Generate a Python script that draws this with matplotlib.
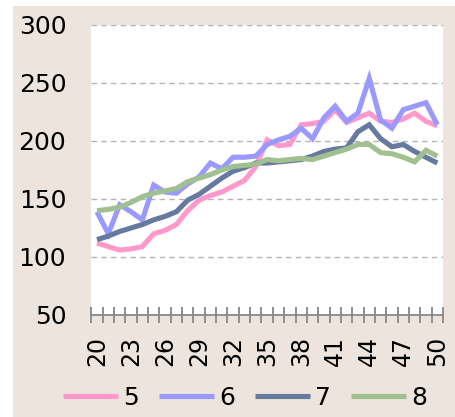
import numpy as np
import matplotlib
matplotlib.use('Agg')
import matplotlib.pyplot as plt
from matplotlib.patches import Rectangle

# категории по оси X
ages = list(range(20, 51))

# значения рядов
s5 = [112, 109, 106, 107, 109, 120, 123, 128, 140, 149, 153, 156, 161, 166, 178, 201,
      196, 197, 214, 215, 217, 227, 216, 220, 224, 217, 216, 219, 224, 217, 213]
s6 = [139, 120, 145, 139, 132, 162, 156, 155, 163, 169, 181, 176, 186, 186, 187, 197,
      201, 204, 211, 202, 220, 230, 217, 224, 254, 218, 211, 227, 230, 233, 214]
s7 = [115, 118, 122, 125, 128, 132, 135, 139, 149, 154, 161, 168, 174, 177, 181, 181,
      182, 183, 184, 187, 191, 193, 194, 208, 214, 202, 195, 197, 191, 186, 181]
s8 = [140, 141, 143, 147, 152, 155, 157, 159, 165, 168, 171, 175, 178, 179, 180, 184,
      183, 184, 185, 184, 187, 190, 193, 197, 197, 190, 189, 186, 182, 192, 187]

series = {'5': s5, '6': s6, '7': s7, '8': s8}
colors = {'5': '#FF99CC', '6': '#9999FF', '7': '#667AA0', '8': '#A0C090'}

plt.rcParams['font.family'] = 'DejaVu Sans'

fig = plt.figure(figsize=(4.55, 4.17), dpi=100, facecolor='white')
# бежевая подложка, под осями
fig.patches.append(Rectangle((13 / 455, 0), 1 - 13 / 455, 1 - 6 / 417,
                             transform=fig.transFigure, facecolor='#EDE5DD',
                             edgecolor='none', zorder=-10))

ax = fig.add_axes([91.3 / 455, 1 - 315 / 417, (443 - 91.3) / 455, (315 - 25) / 417])
ax.set_facecolor('white')

x = np.arange(len(ages))
for name, vals in series.items():
    ax.plot(x, vals, color=colors[name], lw=3.7, label=name, solid_joinstyle='miter',
            solid_capstyle='butt')

ax.set_xlim(-0.5, len(ages) - 0.5)
ax.set_ylim(50, 300)
ax.set_yticks(range(50, 301, 50))
ax.tick_params(axis='y', length=0, labelsize=18, pad=18)

ax.set_xticks(x[::3])
ax.set_xticklabels([str(a) for a in ages[::3]], rotation=90, fontsize=17)
ax.set_xticks(np.arange(-0.5, len(ages), 1), minor=True)
ax.tick_params(axis='x', which='major', length=0, pad=15)
ax.tick_params(axis='x', which='minor', direction='inout', length=11, width=1.3,
               color='#888888')

for v in range(100, 301, 50):
    ax.axhline(v, color='#B4B4B4', lw=1, ls=(0, (4, 3)), zorder=0)

for side in ['top', 'right', 'left']:
    ax.spines[side].set_visible(False)
ax.spines['bottom'].set_color('#888888')
ax.spines['bottom'].set_linewidth(1.3)

fig.legend(loc='center', bbox_to_anchor=(245 / 455, 1 - 398 / 417), ncol=4,
           frameon=False, fontsize=18, handlelength=2.2, handletextpad=0.2,
           columnspacing=0.8, borderpad=0)

fig.savefig('out.png', dpi=100, facecolor=fig.get_facecolor())
